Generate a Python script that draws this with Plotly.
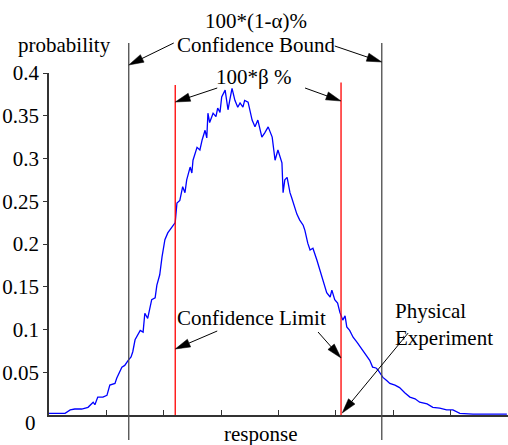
import plotly.graph_objects as go

# ---------------- data ----------------
response = [0, 0.14, 0.28, 0.37, 0.45, 0.57, 0.68, 0.77, 0.80, 0.85, 0.94, 1.01, 1.06, 1.15, 1.18,
            1.27, 1.32, 1.38, 1.43, 1.46, 1.50, 1.59, 1.64, 1.67, 1.72, 1.79, 1.85, 1.88, 1.93, 1.97,
            2.02, 2.07, 2.14, 2.20, 2.23, 2.28, 2.33, 2.37, 2.40, 2.46, 2.49, 2.51, 2.58, 2.63, 2.67,
            2.72, 2.75, 2.77, 2.80, 2.86, 2.91, 2.94, 2.98, 3.01, 3.07, 3.12, 3.15, 3.19, 3.24, 3.29,
            3.33, 3.38, 3.41, 3.47, 3.54, 3.59, 3.64, 3.71, 3.76, 3.82, 3.89, 3.94, 3.99, 4.06, 4.08,
            4.11, 4.15, 4.20, 4.23, 4.29, 4.32, 4.37, 4.43, 4.46, 4.51, 4.55, 4.60, 4.67, 4.72, 4.77,
            4.81, 4.84, 4.90, 4.93, 4.98, 5.03, 5.07, 5.12, 5.16, 5.19, 5.24, 5.30, 5.37, 5.42, 5.49,
            5.54, 5.59, 5.64, 5.70, 5.73, 5.78, 5.82, 5.89, 5.94, 6.03, 6.11, 6.20, 6.29, 6.38, 6.46,
            6.59, 6.69, 6.81, 6.93, 7.04, 7.16, 7.39, 7.68, 7.98]
probability = [0.002, 0.002, 0.002, 0.006, 0.007, 0.007, 0.009, 0.015, 0.012, 0.021, 0.021, 0.023, 0.035, 0.037, 0.043,
               0.056, 0.058, 0.064, 0.068, 0.074, 0.088, 0.099, 0.097, 0.119, 0.113, 0.135, 0.137, 0.152, 0.164, 0.185,
               0.205, 0.213, 0.220, 0.225, 0.248, 0.251, 0.267, 0.260, 0.275, 0.290, 0.283, 0.298, 0.313, 0.310, 0.322,
               0.333, 0.324, 0.353, 0.342, 0.353, 0.349, 0.359, 0.354, 0.372, 0.380, 0.357, 0.368, 0.382, 0.368, 0.360,
               0.365, 0.360, 0.368, 0.366, 0.345, 0.337, 0.345, 0.325, 0.330, 0.337, 0.325, 0.298, 0.310, 0.295, 0.260,
               0.275, 0.278, 0.260, 0.254, 0.240, 0.235, 0.228, 0.222, 0.216, 0.201, 0.193, 0.195, 0.181, 0.170, 0.161,
               0.150, 0.143, 0.138, 0.146, 0.135, 0.131, 0.120, 0.111, 0.116, 0.103, 0.099, 0.091, 0.085, 0.080, 0.074,
               0.068, 0.064, 0.056, 0.055, 0.053, 0.047, 0.044, 0.040, 0.037, 0.035, 0.032, 0.026, 0.021, 0.019, 0.015,
               0.013, 0.009, 0.008, 0.006, 0.006, 0.002, 0.001, 0.001, 0.001]

bound_x = [1.39, 5.80]      # 100*(1-alpha)% confidence bound
limit_x = [2.20, 5.09]      # 100*beta% confidence limit
limit_top = [0.386, 0.389]
experiment_x = 5.11         # physical experiment

y_tickvals = [0.05, 0.1, 0.15, 0.2, 0.25, 0.3, 0.35, 0.4]
y_ticktext = ["0.05", "0.1", "0.15", "0.2", "0.25", "0.3", "0.35", "0.4"]
x_tickvals = [1, 2, 3, 4, 5, 6, 7]

# ---------------- layout constants ----------------
W, H = 508, 445
ML, MR, MT, MB = 49, 0, 73, 30
X_RANGE = [0, 8]
Y_RANGE = [0, 0.4]
PW = W - ML - MR
PH = H - MT - MB
FONT = "Liberation Serif, Times New Roman, serif"
FS = 21
AXC = "#333333"


def pxx(px):          # pixel x -> paper x
    return (px - ML) / PW


def pxy(py):          # pixel y (from top) -> paper y
    return (H - MB - py) / PH


def dx_data(dpx):     # pixel offset -> data offset along x
    return dpx * (X_RANGE[1] - X_RANGE[0]) / PW


fig = go.Figure()
fig.add_trace(go.Scatter(x=response, y=probability, mode="lines",
                         line=dict(color="#0000ff", width=1.3), hoverinfo="skip"))

shapes = []
for bx in bound_x:
    shapes.append(dict(type="line", xref="x", yref="paper", x0=bx, x1=bx,
                       y0=pxy(440), y1=pxy(43), line=dict(color="#4a4a4a", width=1.3)))
for lx, lt in zip(limit_x, limit_top):
    shapes.append(dict(type="line", xref="x", yref="y", x0=lx, x1=lx,
                       y0=0, y1=lt, line=dict(color="#ff0000", width=1.3)))


def arrow(x_tip, tip_py, tdx, tdy, head_len=15, head_w=4.2):
    """arrow from a tail (pixel offset tdx, tdy from tip, screen coords) to tip."""
    L = (tdx ** 2 + tdy ** 2) ** 0.5
    ux, uy = -tdx / L, -tdy / L            # direction tail -> tip (screen)
    nx, ny = -uy, ux
    bx, by = -ux * head_len, -uy * head_len  # base centre relative to tip
    p1 = (bx + nx * head_w, by + ny * head_w)
    p2 = (bx - nx * head_w, by - ny * head_w)

    def X(dpx):
        return x_tip + dx_data(dpx)

    def Y(dpy):
        return pxy(tip_py + dpy)
    shapes.append(dict(type="line", xref="x", yref="paper",
                       x0=X(tdx), y0=Y(tdy), x1=X(bx * 0.8), y1=Y(by * 0.8),
                       line=dict(color="black", width=1)))
    path = "M{},{} L{},{} L{},{} Z".format(X(0), Y(0), X(p1[0]), Y(p1[1]), X(p2[0]), Y(p2[1]))
    shapes.append(dict(type="path", xref="x", yref="paper", path=path,
                       fillcolor="black", line=dict(color="black", width=0.5)))


arrow(bound_x[0], 65, 45, -22)
arrow(bound_x[1], 62, -47, -16)
arrow(limit_x[0], 102, 42, -14)
arrow(limit_x[1], 101, -36, -13)
arrow(limit_x[0], 349, 42, -18)
arrow(limit_x[1], 358, -23, -26)
arrow(experiment_x, 413, 66, -80)

ann = []


def text(t, px, py, xanchor="center", align="center", size=FS):
    ann.append(dict(text=t, xref="paper", yref="paper", x=pxx(px), y=pxy(py),
                    xanchor=xanchor, yanchor="middle", align=align, showarrow=False,
                    font=dict(family=FONT, size=size, color="black")))


text("100*(1-α)%", 256, 21)
text("Confidence Bound", 256, 45)
text("probability", 64, 45)
text("100*β %", 253, 77)
text("Confidence Limit", 251, 318)
text("Physical<br>Experiment", 393, 324, xanchor="left", align="left")
text("response", 260, 434)
text("0", 30, 423)

fig.update_layout(
    width=W, height=H,
    margin=dict(l=ML, r=MR, t=MT, b=MB, pad=0),
    paper_bgcolor="white", plot_bgcolor="white",
    showlegend=False,
    shapes=shapes, annotations=ann,
    font=dict(family=FONT, size=FS, color="black"),
    xaxis=dict(range=X_RANGE, showline=True, linecolor=AXC, linewidth=1.5,
               showgrid=False, zeroline=False, ticks="inside", ticklen=5,
               tickcolor=AXC, tickvals=x_tickvals, showticklabels=False),
    yaxis=dict(range=Y_RANGE, showline=True, linecolor=AXC, linewidth=1.5,
               showgrid=False, zeroline=False, ticks="outside", ticklen=4,
               tickcolor=AXC, tickvals=y_tickvals, ticktext=y_ticktext,
               tickfont=dict(family=FONT, size=FS, color="black")),
)

fig.write_html("out.html", config={"displayModeBar": False},
               post_script="document.body.style.margin='0';document.body.style.padding='0';")
